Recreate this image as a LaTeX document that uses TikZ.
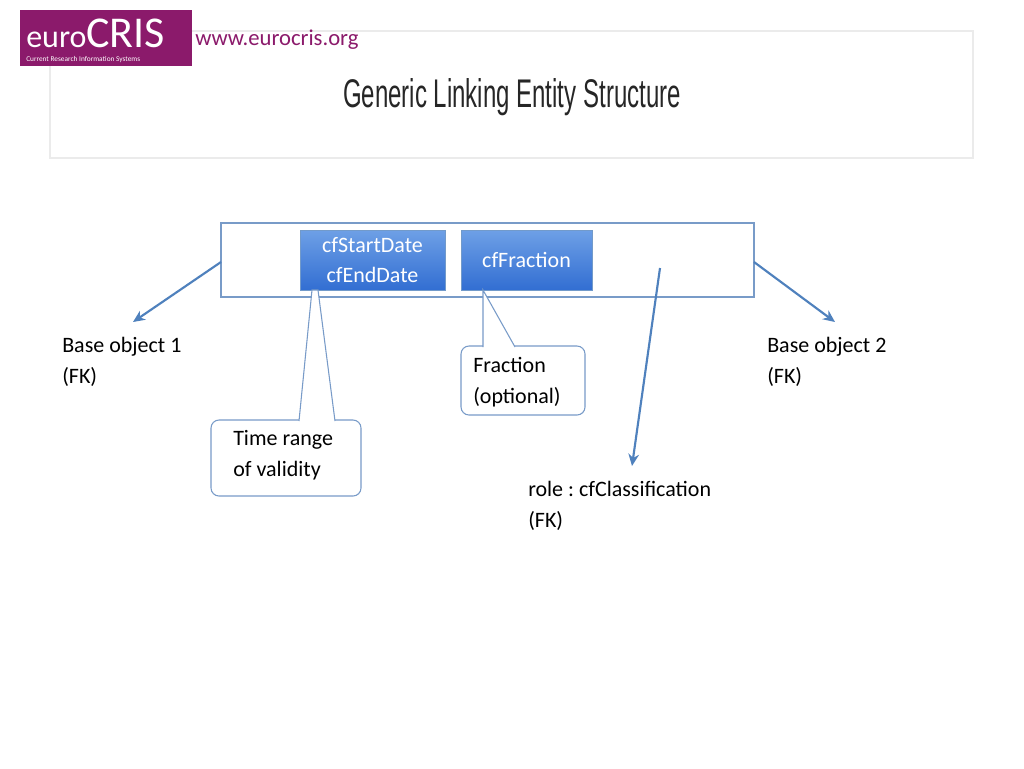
\documentclass[tikz,border=0pt]{standalone}
\usepackage{fontspec}
\usetikzlibrary{arrows.meta}
\setmainfont{Carlito}
\newfontfamily\titlefont{Liberation Sans}
\definecolor{ln}{RGB}{79,129,189}
\definecolor{lnl}{RGB}{120,155,200}
\definecolor{btop}{RGB}{110,160,230}
\definecolor{bbot}{RGB}{50,110,210}
\definecolor{euro}{RGB}{139,26,107}
\begin{document}
\frenchspacing
\begin{tikzpicture}[x=0.75pt,y=-0.75pt,
  txt/.style={anchor=north west,align=left,font=\fontsize{16.5}{23}\selectfont,inner sep=0pt},
  bluebox/.style={draw=ln!80,top color=btop,bottom color=bbot,text=white},
  arr/.style={draw=ln,line width=1.6pt,-{Stealth[length=9pt,width=8pt]}},
  call/.style={draw=lnl,fill=white,rounded corners=6pt,line width=0.8pt}]
\useasboundingbox (0,0) rectangle (1024,768);
\fill[white] (0,0) rectangle (1024,768);
% title
\draw[black!8,line width=1pt] (50,31) rectangle (973,158);
\node[font=\titlefont\fontsize{30}{30}\selectfont,xscale=0.6,text=black!85] (title) at (512,97) {Generic Linking Entity Structure};
% logo
\fill[euro] (20,10) rectangle (192,66);
\node[text=white,font=\fontsize{24}{24}\selectfont,anchor=west,inner sep=0] (lt) at (26,33) {euro\fontsize{33}{33}\selectfont CRIS};
\node[text=white,font=\fontsize{5.5}{6}\selectfont,anchor=west,inner sep=0] (ls) at (26,60) {Current Research Information Systems};
\node[text=euro,font=\fontsize{17}{18}\selectfont,anchor=west,inner sep=0] (url) at (195,40) {www.eurocris.org};
% main box
\draw[draw=lnl,line width=0.8pt] (221,223) rectangle (754,297);
\node[bluebox,minimum width=145*0.75pt,minimum height=60*0.75pt,align=center,inner sep=0pt,
  font=\fontsize{16.5}{22}\selectfont] (dates) at (372.5,260) {cfStartDate\\cfEndDate};
\node[bluebox,minimum width=131*0.75pt,minimum height=60*0.75pt,inner sep=0pt] (frac) at (526.5,260) {};
\node[text=white,font=\fontsize{16.5}{22}\selectfont,inner sep=0] (fract) at (526.5,260) {cfFraction};
% arrows
\coordinate (a1) at (221,262); \coordinate (b1) at (133,322);
\coordinate (a2) at (754,262); \coordinate (b2) at (835,322);
\coordinate (a3) at (660,268); \coordinate (b3) at (632,466);
\draw[arr] (a1) -- (b1);
\draw[arr] (a2) -- (b2);
\draw[arr] (a3) -- (b3);
\node[txt] (bo1) at (62,337) {Base object 1\\(FK)};
\node[txt] (bo2) at (767,337) {Base object 2\\(FK)};
\node[txt] (role) at (528,481) {role : cfClassification\\(FK)};
% callouts
\draw[call] (461,346) rectangle (585,415);
\draw[draw=lnl,fill=white,line width=0.8pt] (483,347) -- (483,290) -- (515,347);
\node[txt] (fco) at (473,357) {Fraction\\(optional)};
\draw[call] (211,420) rectangle (361,496);
\draw[draw=lnl,fill=white,line width=0.8pt] (299,421) -- (312,290) -- (318,290) -- (335,421);
\node[txt] (tco) at (233,430) {Time range\\of validity};
\end{tikzpicture}
\end{document}
